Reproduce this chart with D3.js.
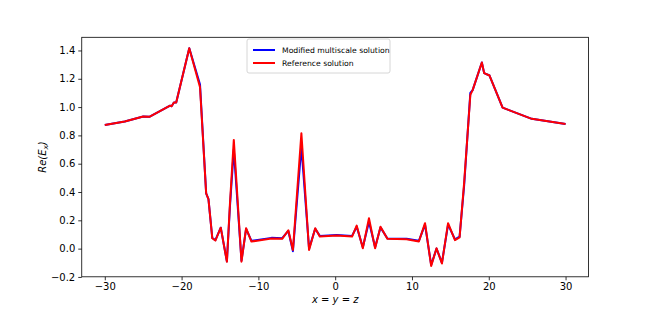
<html>
<meta charset="utf-8" />
<head>
<style>
body { margin: 0; background: #fff; }
svg { display: block; }
svg text { font-family: "DejaVu Sans", sans-serif; fill: #000; }
.axis path, .axis line { stroke: #000; stroke-width: 0.8px; }
.axis text { font-size: 10px; }
</style>
<script src="https://cdn.jsdelivr.net/npm/d3@7"></script>
</head>
<body>
<svg class="chart"></svg>
<script>
var chartWidth = 654;
var chartHeight = 311;

/********
 * Data *
 ********/

// position along the diagonal x = y = z
var positions = [-30, -27.4, -25.0, -24.2, -21.5, -21.3, -21.0, -20.7, -19.0, -17.6,
  -16.8, -16.5, -16.0, -15.6, -14.9, -14.1, -13.7, -13.2, -12.2, -11.6,
  -10.9, -8.3, -6.9, -6.1, -5.5, -4.4, -3.4, -2.6, -2.0, 0.2,
  2.2, 2.8, 3.6, 4.4, 5.2, 5.9, 6.8, 9.3, 10.9, 11.7,
  12.5, 13.2, 13.9, 14.7, 15.6, 16.2, 16.8, 17.6, 17.9, 19.1,
  19.4, 20.1, 21.8, 25.6, 30];

var multiscaleVals = [0.874, 0.898, 0.933, 0.931, 1.010, 1.006, 1.032, 1.032, 1.416, 1.16,
  0.39, 0.35, 0.075, 0.06, 0.148, -0.09, 0.30, 0.70, -0.085, 0.14,
  0.055, 0.076, 0.074, 0.125, -0.018, 0.72, 0.0, 0.14, 0.09, 0.097,
  0.09, 0.155, 0.01, 0.19, 0.01, 0.15, 0.072, 0.07, 0.055, 0.17,
  -0.115, 0.0, -0.1, 0.17, 0.065, 0.085, 0.45, 1.10, 1.12, 1.315,
  1.24, 1.223, 0.996, 0.917, 0.881];

var referenceVals = [0.874, 0.898, 0.933, 0.931, 1.010, 1.006, 1.032, 1.032, 1.416, 1.14,
  0.39, 0.35, 0.073, 0.057, 0.148, -0.092, 0.32, 0.768, -0.092, 0.144,
  0.05, 0.071, 0.069, 0.13, -0.01, 0.815, -0.01, 0.144, 0.085, 0.092,
  0.085, 0.163, 0.003, 0.215, 0.003, 0.155, 0.069, 0.066, 0.05, 0.18,
  -0.122, 0.003, -0.105, 0.18, 0.06, 0.08, 0.47, 1.086, 1.12, 1.315,
  1.24, 1.223, 0.996, 0.917, 0.881];

var seriesNames = ["Modified multiscale solution", "Reference solution"];
var seriesColors = ["#0000ff", "#ff0000"];

var xTicks = [-30, -20, -10, 0, 10, 20, 30];
var yTicks = [-0.2, 0.0, 0.2, 0.4, 0.6, 0.8, 1.0, 1.2, 1.4];

/**********
 * Scales *
 **********/

var plotLeft = 81.75, plotRight = 588.6, plotTop = 37.3, plotBottom = 276.8;

var x = d3.scaleLinear().domain([-33, 33]).range([plotLeft, plotRight]);
var y = d3.scaleLinear().domain([-0.199, 1.493]).range([plotBottom, plotTop]);

var canvas = d3.select(".chart")
    .attr("width", chartWidth)
    .attr("height", chartHeight);

var line = d3.line()
    .x(function(d){ return x(d[0]); })
    .y(function(d){ return y(d[1]); });

var series = [multiscaleVals, referenceVals];

canvas.selectAll("path.series")
    .data(series)
  .enter().append("path")
    .attr("class", "series")
    .attr("fill", "none")
    .attr("stroke", function(d, i){ return seriesColors[i]; })
    .attr("stroke-width", 2)
    .attr("stroke-linejoin", "round")
    .attr("d", function(vals){
      return line(vals.map(function(v, i){ return [positions[i], v]; }));
    });

/********
 * Axes *
 ********/

var xAxis = d3.axisBottom(x)
    .tickValues(xTicks)
    .tickSize(3.5)
    .tickPadding(3)
    .tickFormat(function(d){ return d3.format("d")(d).replace("-", "\u2212"); });

var yAxis = d3.axisLeft(y)
    .tickValues(yTicks)
    .tickSize(3.5)
    .tickPadding(3)
    .tickFormat(function(d){ return d3.format(".1f")(d).replace("-", "\u2212"); });

canvas.append("g")
    .attr("class", "axis")
    .attr("transform", "translate(0," + plotBottom + ")")
    .call(xAxis)
    .call(function(g){ g.select(".domain").remove(); });

canvas.append("g")
    .attr("class", "axis")
    .attr("transform", "translate(" + plotLeft + ",0)")
    .call(yAxis)
    .call(function(g){ g.select(".domain").remove(); });

// frame
canvas.append("rect")
    .attr("x", plotLeft)
    .attr("y", plotTop)
    .attr("width", plotRight - plotLeft)
    .attr("height", plotBottom - plotTop)
    .attr("fill", "none")
    .attr("stroke", "#000")
    .attr("stroke-width", 0.8);

// axis labels
canvas.append("text")
    .attr("x", (plotLeft + plotRight) / 2)
    .attr("y", 303)
    .attr("text-anchor", "middle")
    .style("font-size", "10px")
    .style("font-style", "italic")
    .text("x = y = z");

var yl = canvas.append("text")
    .attr("transform", "translate(46," + ((plotTop + plotBottom) / 2) + ") rotate(-90)")
    .attr("text-anchor", "middle")
    .style("font-size", "10px")
    .style("font-style", "italic");
yl.append("tspan").text("Re(E");
yl.append("tspan").attr("dy", 2).style("font-size", "7px").text("x");
yl.append("tspan").attr("dy", -2).text(")");

/**********
 * Legend *
 **********/

var legend = canvas.append("g").attr("transform", "translate(247,39)");

legend.append("rect")
    .attr("width", 143)
    .attr("height", 34)
    .attr("rx", 2)
    .attr("fill", "#fff")
    .attr("stroke", "#cccccc")
    .attr("stroke-width", 0.8);

var items = legend.selectAll("g.item")
    .data(seriesNames)
  .enter().append("g")
    .attr("class", "item")
    .attr("transform", function(d, i){ return "translate(0," + (11 + i * 13) + ")"; });

items.append("line")
    .attr("x1", 6).attr("x2", 28)
    .attr("stroke", function(d, i){ return seriesColors[i]; })
    .attr("stroke-width", 2);

items.append("text")
    .attr("x", 35)
    .attr("dy", "0.35em")
    .style("font-size", "7.7px")
    .text(function(d){ return d; });
</script>
</body>
</html>
